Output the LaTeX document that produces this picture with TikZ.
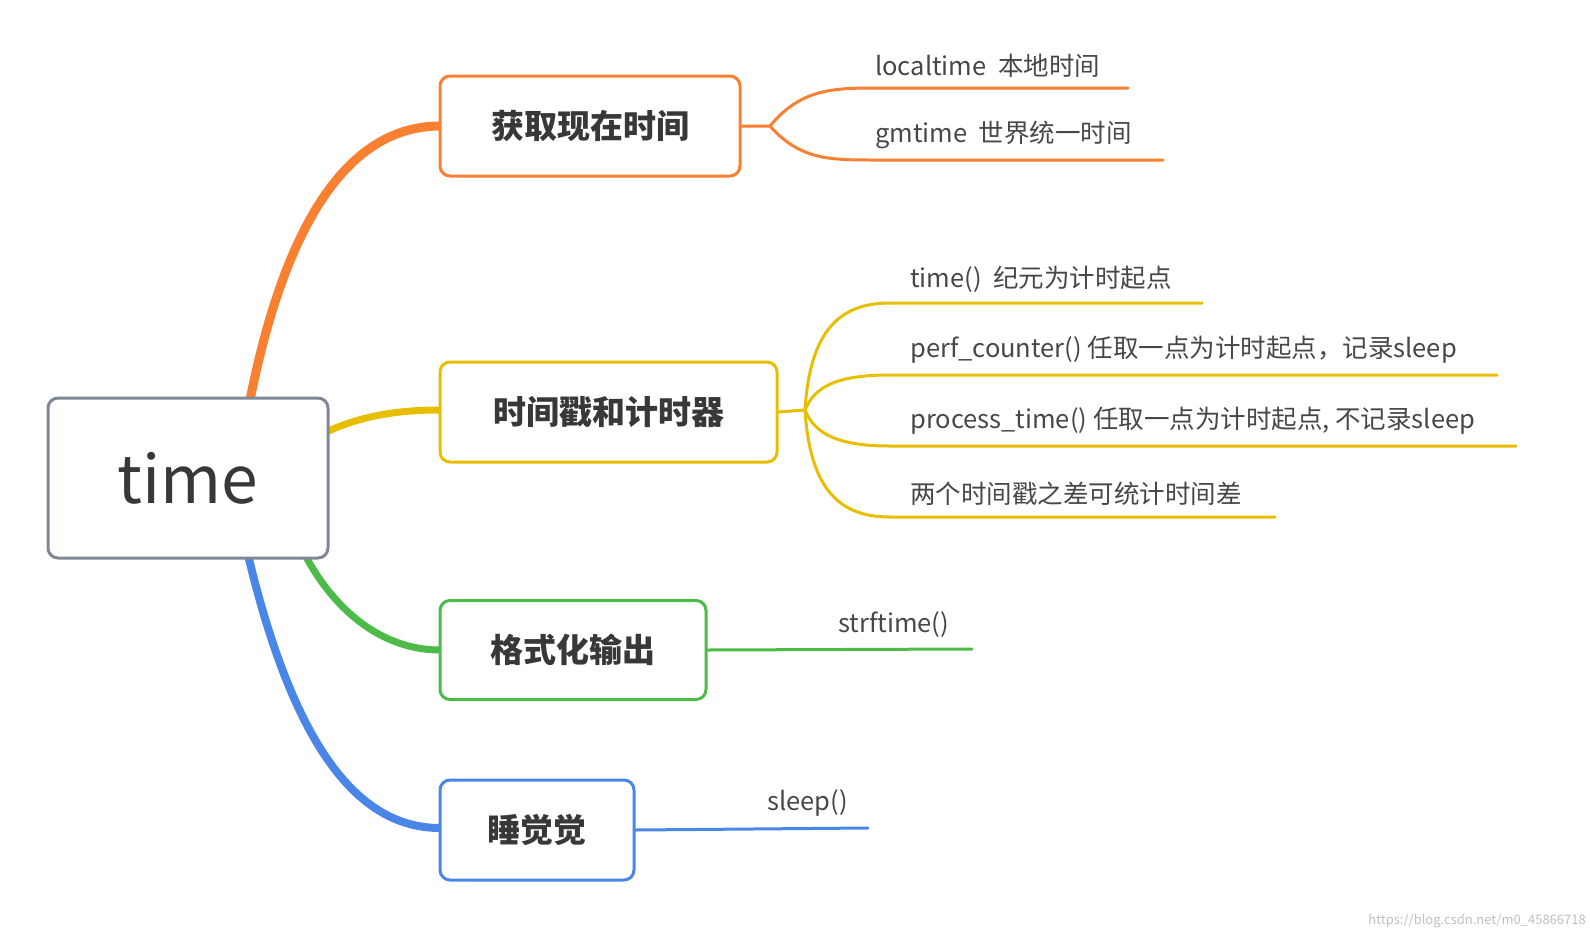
\documentclass[tikz,border=0pt]{standalone}
\usepackage{fontspec}
\setmainfont{Noto Sans CJK SC}
\begin{document}
\begin{tikzpicture}[x=1pt,y=-1pt,
  box/.style={draw,line width=3pt,rounded corners=10pt,fill=white,inner sep=0pt},
  title/.style={font=\fontsize{33}{38}\selectfont\bfseries,text=black!78},
  lab/.style={font=\fontsize{25.5}{29}\selectfont,text=black!72,anchor=south west,inner sep=0pt},
  br/.style={line width=3pt,line cap=round}]
\definecolor{cor}{HTML}{F98030}\definecolor{cye}{HTML}{E8BE00}
\definecolor{cgr}{HTML}{4CBB47}\definecolor{cbl}{HTML}{4A86E8}\definecolor{cgy}{HTML}{808898}
\useasboundingbox (0,0) rectangle (1590,948);
% main branches
\draw[cor,line width=9pt] (250,400) .. controls (290,200) and (360,126) .. (440,126);
\draw[cye,line width=7pt] (320,435) .. controls (360,415) and (400,410) .. (440,410);
\draw[cgr,line width=7pt] (305,555) .. controls (340,620) and (390,650) .. (440,650);
\draw[cbl,line width=8pt] (248,555) .. controls (290,730) and (350,828) .. (440,828);
% boxes
\node[box,draw=cgy,minimum width=280pt,minimum height=160pt,text=black!78] (t) at (188,478) {\fontsize{66}{76}\selectfont time};
\node[box,draw=cor,minimum width=300pt,minimum height=100pt,title] (a) at (590,126) {获取现在时间};
\node[box,draw=cye,minimum width=337pt,minimum height=100pt,title] (b) at (608.5,412) {时间戳和计时器};
\node[box,draw=cgr,minimum width=266pt,minimum height=99pt,title] (c) at (573,650) {格式化输出};
\node[box,draw=cbl,minimum width=194pt,minimum height=100pt,title] (d) at (537,830) {睡觉觉};
% orange subs
\coordinate (ao) at (770,126);
\draw[br,cor] (a.east) -- (ao) .. controls (800,90) and (830,88) .. (875,88) -- (1128,88);
\draw[br,cor] (ao) .. controls (800,160) and (830,160) .. (875,160) -- (1163,160);
\node[lab] at (875,78) {localtime\ \ 本地时间};
\node[lab] at (875,149) {gmtime\ \ 世界统一时间};
% yellow subs
\coordinate (bo) at (805,410);
\draw[br,cye] (b.east) -- (bo) .. controls (810,330) and (840,303) .. (890,303) -- (1202,303);
\draw[br,cye] (bo) .. controls (815,385) and (840,375) .. (890,375) -- (1497,375);
\draw[br,cye] (bo) .. controls (815,435) and (840,446) .. (890,446) -- (1516,446);
\draw[br,cye] (bo) .. controls (810,490) and (840,517) .. (890,517) -- (1275,517);
\node[lab] at (910,293) {time()\ \ 纪元为计时起点};
\node[lab] at (910,364) {perf\_counter() 任取一点为计时起点，记录sleep};
\node[lab] at (910,435) {process\_time() 任取一点为计时起点, 不记录sleep};
\node[lab] at (910,506) {两个时间戳之差可统计时间差};
% green, blue
\coordinate (ce) at (972,649);
\draw[br,cgr] (c.east) -- (ce);
\node[lab] at (838,638) {strftime()};
\coordinate (de) at (868,828);
\draw[br,cbl] (d.east) -- (de);
\node[lab] at (767,817) {sleep()};
\node[anchor=south east,inner sep=2pt,font=\fontsize{13}{15}\selectfont,text=black!25] at (1588,930) {https://blog.csdn.net/m0\_45866718};
\end{tikzpicture}
\end{document}
